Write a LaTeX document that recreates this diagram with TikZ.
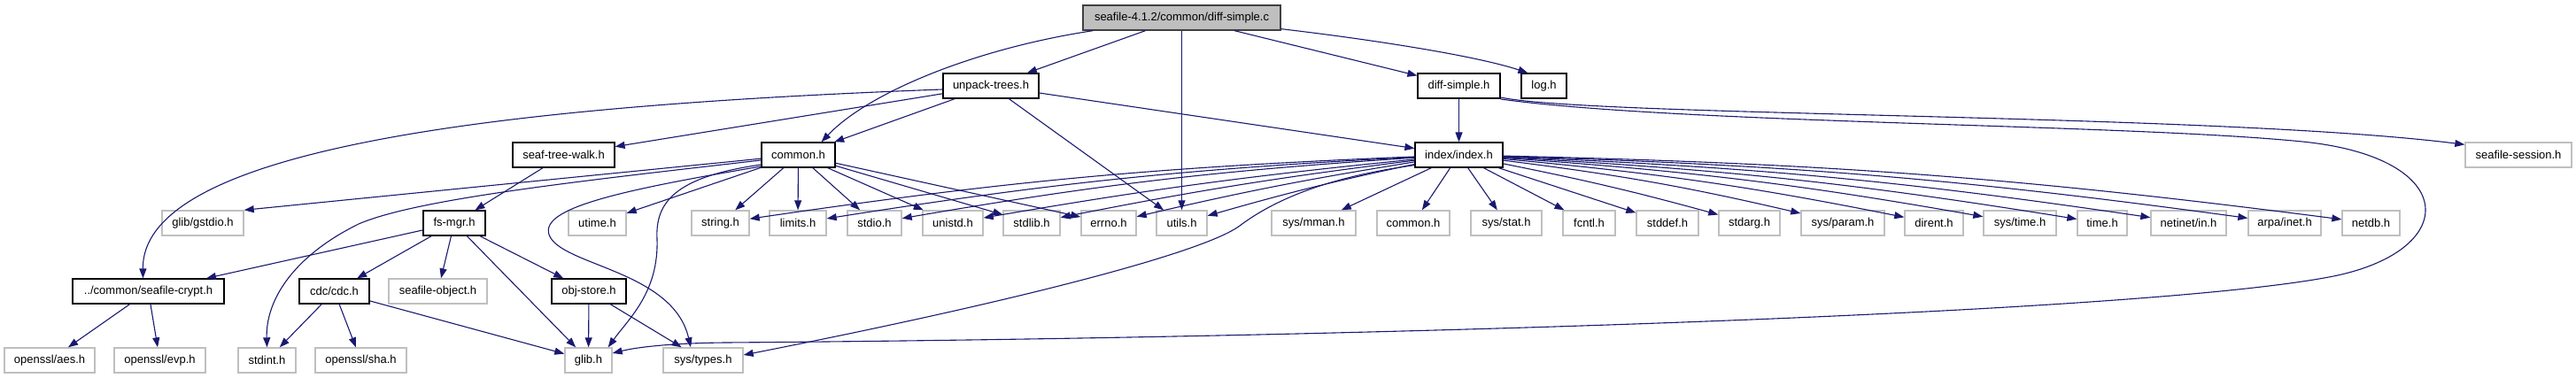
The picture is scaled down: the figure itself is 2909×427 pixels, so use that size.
\documentclass[tikz,border=0pt]{standalone}
\usepackage{fontspec}
\setmainfont{Liberation Sans}
\usetikzlibrary{arrows.meta,calc}
\definecolor{edgeblue}{RGB}{25,25,112}
\definecolor{lightgr}{RGB}{191,191,191}
\tikzset{
  box/.style={rectangle, minimum height=28, inner sep=0pt, font=\fontsize{13}{15}\selectfont},
  doc/.style={box, draw=black, line width=1.2pt, fill=white},
  undoc/.style={box, draw=lightgr, line width=1.4pt, fill=white},
  rootbox/.style={box, draw=black!75, line width=1.3pt, fill=lightgr},
  dep/.style={draw=edgeblue, line width=1.1pt, -{Triangle[length=11pt,width=8pt]}, fill=none}
}
\begin{document}
\begin{tikzpicture}[x=1pt,y=-1pt]
\useasboundingbox (0,0) rectangle (2909,427);
% row 0
\node[rootbox, minimum width=223] (top) at (1334.5,20) {seafile-4.1.2/common/diff-simple.c};
% row 1
\node[doc, minimum width=108] (unpack) at (1119,97) {unpack-trees.h};
\node[doc, minimum width=93] (diffh) at (1647.5,97) {diff-simple.h};
\node[doc, minimum width=51] (log) at (1743.5,97) {log.h};
% row 2
\node[doc, minimum width=115] (stw) at (636.5,175) {seaf-tree-walk.h};
\node[doc, minimum width=83] (common) at (901.5,175) {common.h};
\node[doc, minimum width=99] (index) at (1647.5,175) {index/index.h};
\node[undoc, minimum width=120] (session) at (2844,175) {seafile-session.h};
% row 3
\node[undoc, minimum width=92] (gstdio) at (229,252) {glib/gstdio.h};
\node[doc, minimum width=70] (fsmgr) at (513,252) {fs-mgr.h};
\node[undoc, minimum width=65] (utime) at (674.5,252) {utime.h};
\node[undoc, minimum width=65] (string) at (813.5,252) {string.h};
\node[undoc, minimum width=64] (limits) at (901,252) {limits.h};
\node[undoc, minimum width=61] (stdio) at (987.5,252) {stdio.h};
\node[undoc, minimum width=68] (unistd) at (1076,252) {unistd.h};
\node[undoc, minimum width=64] (stdlib) at (1165,252) {stdlib.h};
\node[undoc, minimum width=62] (errno) at (1252,252) {errno.h};
\node[undoc, minimum width=57] (utils) at (1334.5,252) {utils.h};
\node[undoc, minimum width=95] (mman) at (1483.5,252) {sys/mman.h};
\node[undoc, minimum width=82] (common2) at (1596,252) {common.h};
\node[undoc, minimum width=80] (stat) at (1701,252) {sys/stat.h};
\node[undoc, minimum width=59] (fcntl) at (1794.5,252) {fcntl.h};
\node[undoc, minimum width=70] (stddef) at (1883,252) {stddef.h};
\node[undoc, minimum width=69] (stdarg) at (1975.5,252) {stdarg.h};
\node[undoc, minimum width=94] (param) at (2081,252) {sys/param.h};
\node[undoc, minimum width=66] (dirent) at (2184,252) {dirent.h};
\node[undoc, minimum width=82] (systime) at (2281,252) {sys/time.h};
\node[undoc, minimum width=56] (time) at (2374,252) {time.h};
\node[undoc, minimum width=85] (netinet) at (2471.5,252) {netinet/in.h};
\node[undoc, minimum width=82] (arpa) at (2580,252) {arpa/inet.h};
\node[undoc, minimum width=65] (netdb) at (2677.5,252) {netdb.h};
% row 4
\node[doc, minimum width=171] (crypt) at (167.5,329) {../common/seafile-crypt.h};
\node[doc, minimum width=79] (cdc) at (377.5,329) {cdc/cdc.h};
\node[undoc, minimum width=111] (sobj) at (494.5,329) {seafile-object.h};
\node[doc, minimum width=84] (objstore) at (665,329) {obj-store.h};
% row 5
\node[undoc, minimum width=102] (aes) at (56,407) {openssl/aes.h};
\node[undoc, minimum width=103] (evp) at (180.5,407) {openssl/evp.h};
\node[undoc, minimum width=65] (stdint) at (301.5,407) {stdint.h};
\node[undoc, minimum width=103] (sha) at (407.5,407) {openssl/sha.h};
\node[undoc, minimum width=53] (glib) at (664.5,407) {glib.h};
\node[undoc, minimum width=90] (systypes) at (794,407) {sys/types.h};

% edges from the root file
\draw[dep] (top) -- (unpack);
\draw[dep] (top) -- (utils);
\draw[dep] (top) -- (diffh);
\draw[dep] ($(top.south east)+(0,-2)$) .. controls (1560,46) and (1670,64) .. ($(log.north west)+(8,0)$);
\draw[dep] ($(top.south west)+(12,0)$) .. controls (1100,55) and (980,105) .. ($(common.north east)+(-16,0)$);

% unpack-trees.h
\draw[dep] ($(unpack.west)+(0,4)$) .. controls (550,120) and (160,170) .. ($(crypt.north)+(-6,0)$);
\draw[dep] (unpack) -- (stw);
\draw[dep] (unpack) -- (common);
\draw[dep] (unpack) -- (index);
\draw[dep] (unpack) -- (utils);

% diff-simple.h
\draw[dep] (diffh) -- (index);
\draw[dep] ($(diffh.east)+(0,13)$) .. controls (1800,132) and (2500,128) .. ($(session.north west)+(0,3)$);
\draw[dep] ($(diffh.east)+(0,15)$) .. controls (1900,140) and (2400,140) .. (2600,160)
  .. controls (2780,178) and (2780,285) .. (2630,313)
  .. controls (2400,356) and (1500,382) .. (820,387)
  .. controls (760,387.5) and (720,392) .. ($(glib.east)+(0,-8)$);

% seaf-tree-walk.h
\draw[dep] (stw) -- (fsmgr);

% common.h
\draw[dep] (common) -- (gstdio.north east);
\draw[dep] (common) -- (utime);
\draw[dep] ($(common.west)+(0,6)$) .. controls (650,205) and (470,225) .. (405,253)
  .. controls (330,290) and (300,340) .. (stdint.north);
\draw[dep] ($(common.west)+(0,11)$) .. controls (760,200) and (740,230) .. (742,270)
  .. controls (744,330) and (710,360) .. ($(glib.north east)+(-5,0)$);
\draw[dep] ($(common.west)+(0,13)$) .. controls (700,215) and (610,235) .. (620,265)
  .. controls (632,300) and (760,305) .. ($(systypes.north)+(-14,0)$);
\draw[dep] (common) -- (string);
\draw[dep] (common) -- (limits);
\draw[dep] (common) -- (stdio);
\draw[dep] (common) -- (unistd);
\draw[dep] (common) -- (stdlib);
\draw[dep] (common) -- (errno);

% index/index.h
\draw[dep] (index) to[bend right=3] (string);
\draw[dep] (index) to[bend right=3] (limits);
\draw[dep] (index) to[bend right=3] (stdio);
\draw[dep] (index) to[bend right=2] (unistd);
\draw[dep] (index) to[bend right=2] (stdlib);
\draw[dep] (index) to[bend right=2] (errno);
\draw[dep] (index) to[bend right=2] (utils);
\draw[dep] ($(index.south west)+(0,-3)$) .. controls (1500,200) and (1440,225) .. (1400,255)
  .. controls (1360,285) and (1150,340) .. ($(systypes.east)+(0,-6)$);
\draw[dep] (index) -- (mman);
\draw[dep] (index) -- (common2);
\draw[dep] (index) -- (stat);
\draw[dep] (index) -- (fcntl);
\draw[dep] (index) -- (stddef);
\draw[dep] (index) to[bend left=2] (stdarg);
\draw[dep] (index) to[bend left=3] (param);
\draw[dep] (index) to[bend left=3] (dirent);
\draw[dep] (index) to[bend left=3] (systime);
\draw[dep] (index) to[bend left=3] (time);
\draw[dep] (index) to[bend left=3] (netinet);
\draw[dep] (index) to[bend left=3] (arpa);
\draw[dep] (index) to[bend left=3] (netdb);

% fs-mgr.h
\draw[dep] (fsmgr) -- (crypt);
\draw[dep] (fsmgr) -- (cdc);
\draw[dep] (fsmgr) -- (sobj);
\draw[dep] (fsmgr) -- (glib);
\draw[dep] (fsmgr) -- (objstore);

% seafile-crypt.h
\draw[dep] (crypt) -- (aes);
\draw[dep] (crypt) -- (evp);

% cdc.h
\draw[dep] (cdc) -- (stdint);
\draw[dep] (cdc) -- (sha);
\draw[dep] (cdc) -- (glib);

% obj-store.h
\draw[dep] (objstore) -- (glib);
\draw[dep] (objstore) -- (systypes);
\end{tikzpicture}
\end{document}
